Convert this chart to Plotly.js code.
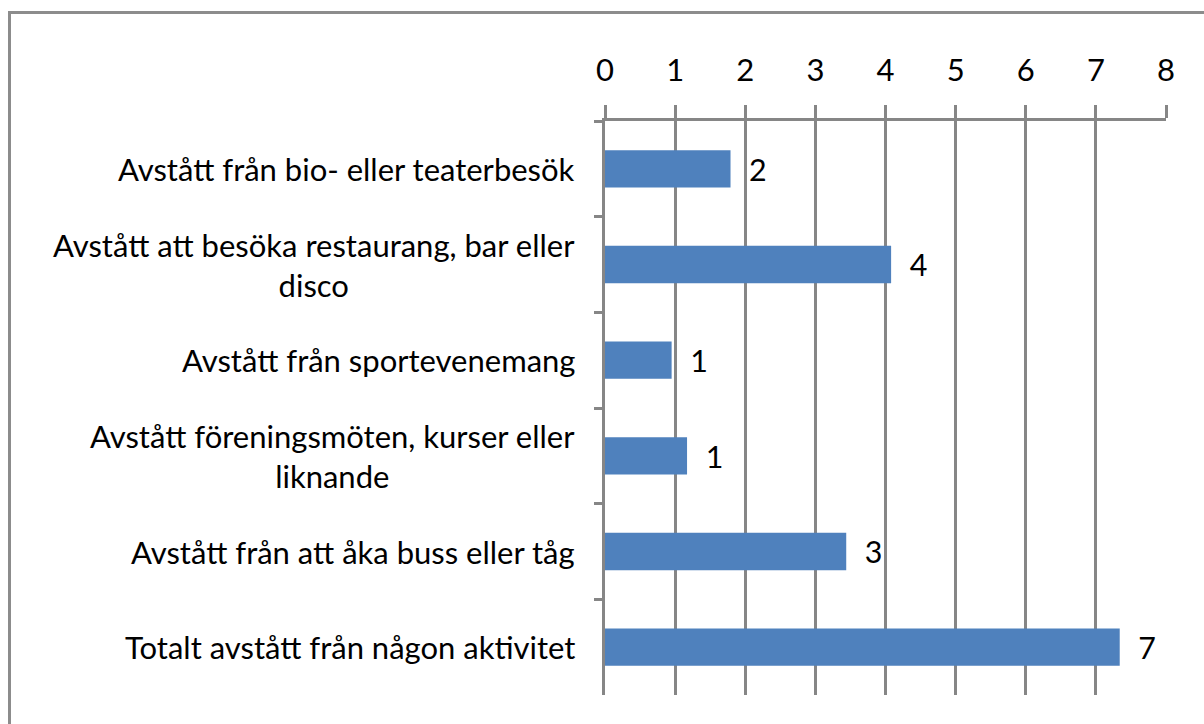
<!DOCTYPE html>
<html>
<head>
<meta charset="utf-8">
<script src="https://cdn.plot.ly/plotly-3.0.1.min.js"></script>
<style>
    body { margin: 0; background: #fff; }
    #chart { width: 1204px; height: 724px; }
    #frame {
        position: absolute; left: 8px; top: 11px; width: 1300px; height: 800px;
        border-left: 3px solid #8c8c8c; border-top: 3px solid #8c8c8c;
        pointer-events: none;
    }
</style>
</head>
<body>
<div id="chart"></div>
<div id="frame"></div>
<script>
const categories = [
    "Avstått från bio- eller teaterbesök",
    "Avstått att besöka restaurang, bar eller<br>disco",
    "Avstått från sportevenemang",
    "Avstått föreningsmöten, kurser eller<br>liknande",
    "Avstått från att åka buss eller tåg",
    "Totalt avstått från någon aktivitet"
];
const values = [1.79, 4.08, 0.95, 1.17, 3.44, 7.34];
const xTicks = [0, 1, 2, 3, 4, 5, 6, 7, 8];

const gray = '#868686';
const fontFamily = 'Lato, "Open Sans", sans-serif';
const fontSize = 31;

// category labels as annotations so wrapped lines can be centered
const labelNotes = categories.map(c => ({
    x: 0, xref: 'paper', xanchor: 'right', xshift: -28,
    y: c, yref: 'y', yanchor: 'middle',
    text: c, align: 'center', showarrow: false,
    font: { family: fontFamily, size: fontSize, color: '#000' },
}));

Plotly.newPlot('chart', [{
    type: 'bar',
    orientation: 'h',
    x: values,
    y: categories,
    marker: { color: '#4f81bd' },
    texttemplate: '\u00a0\u00a0%{x:.0f}',
    textposition: 'outside',
    textfont: { family: fontFamily, size: fontSize, color: '#000' },
    cliponaxis: false,
    hoverinfo: 'none',
}], {
    width: 1204,
    height: 724,
    margin: { l: 605, r: 38, t: 121, b: 29 },
    paper_bgcolor: '#fff',
    plot_bgcolor: '#fff',
    showlegend: false,
    bargap: 0.61,
    font: { family: fontFamily, size: fontSize, color: '#000' },
    xaxis: {
        side: 'top',
        range: [0, 8],
        tickvals: xTicks,
        ticks: 'outside',
        ticklen: 13,
        tickwidth: 3,
        tickcolor: gray,
        ticklabelstandoff: 12,
        showgrid: true,
        gridcolor: gray,
        gridwidth: 3,
        zeroline: false,
        showline: true,
        linecolor: gray,
        linewidth: 3,
        tickfont: { family: fontFamily, size: fontSize, color: '#000' },
        fixedrange: true,
    },
    yaxis: {
        type: 'category',
        autorange: 'reversed',
        showticklabels: false,
        ticks: 'outside',
        tickson: 'boundaries',
        ticklen: 8,
        tickwidth: 3,
        tickcolor: gray,
        showgrid: false,
        showline: true,
        linecolor: gray,
        linewidth: 3,
        fixedrange: true,
    },
    annotations: labelNotes,
}, { displayModeBar: false, staticPlot: true });
</script>
</body>
</html>
